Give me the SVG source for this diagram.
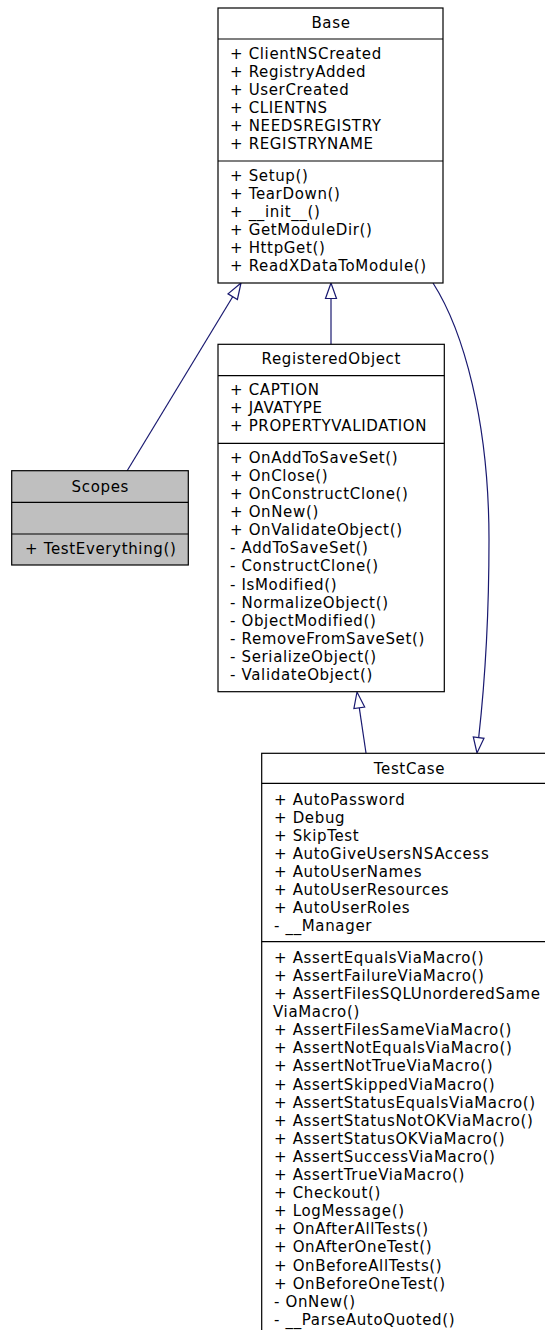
<svg xmlns="http://www.w3.org/2000/svg" width="545" height="1330" viewBox="0 0 545 1330">
<style>
text { font-family: "DejaVu Sans", "Liberation Sans", sans-serif; font-size: 15px; letter-spacing: 0.65px; fill: #000; }
.t { text-anchor: middle; }
.box { fill: #fff; stroke: #000; stroke-width: 1.2; }
.grey { fill: #bfbfbf; stroke: #000; stroke-width: 1.2; }
.sep { stroke: #000; stroke-width: 1.2; }
.edge { fill: none; stroke: #191970; stroke-width: 1.2; }
.head { fill: #fff; stroke: #191970; stroke-width: 1.2; }
</style>
<rect width="545" height="1330" fill="#fff"/>
<g id="connectors">
  <path class="edge" d="M127,471 L232.7,296.7"/>
  <polygon class="head" points="241,283 228,293.8 237.4,299.5"/>
  <path class="edge" d="M331,298.5 L331,344.5"/>
  <polygon class="head" points="331,283 325.5,298.5 336.5,298.5"/>
  <path class="edge" d="M366,753 L359.3,707.8"/>
  <polygon class="head" points="357,692 353.9,708.6 364.7,707"/>
  <path class="edge" d="M433,283 C463,330 489,420 489,540 C489,620 484,690 478.7,737.5"/>
  <polygon class="head" points="477,753 473.3,737 484,738.3"/>
</g>
<g id="Base">
  <rect class="box" x="218" y="8" width="225" height="275"/>
  <line class="sep" x1="218" y1="39" x2="443" y2="39"/>
  <line class="sep" x1="218" y1="161" x2="443" y2="161"/>
  <text class="t" x="331" y="28">Base</text>
  <text x="230" y="58.5">+ ClientNSCreated</text>
  <text x="230" y="76.6">+ RegistryAdded</text>
  <text x="230" y="94.7">+ UserCreated</text>
  <text x="230" y="112.8">+ CLIENTNS</text>
  <text x="230" y="130.9">+ NEEDSREGISTRY</text>
  <text x="230" y="149">+ REGISTRYNAME</text>
  <text x="230" y="180.5">+ Setup()</text>
  <text x="230" y="198.6">+ TearDown()</text>
  <text x="230" y="216.7">+ __init__()</text>
  <text x="230" y="234.8">+ GetModuleDir()</text>
  <text x="230" y="252.9">+ HttpGet()</text>
  <text x="230" y="271">+ ReadXDataToModule()</text>
</g>
<g id="Scopes">
  <rect class="grey" x="11.7" y="470.7" width="176.6" height="94.3"/>
  <line class="sep" x1="11.7" y1="502.3" x2="188.3" y2="502.3"/>
  <line class="sep" x1="11.7" y1="534" x2="188.3" y2="534"/>
  <text class="t" x="100.3" y="491.5">Scopes</text>
  <text x="25" y="553.8">+ TestEverything()</text>
</g>
<g id="RegisteredObject">
  <rect class="box" x="218" y="344.3" width="226.3" height="347.4"/>
  <line class="sep" x1="218" y1="375.7" x2="444.3" y2="375.7"/>
  <line class="sep" x1="218" y1="443.3" x2="444.3" y2="443.3"/>
  <text class="t" x="331.3" y="363.8">RegisteredObject</text>
  <text x="230" y="394.8">+ CAPTION</text>
  <text x="230" y="412.9">+ JAVATYPE</text>
  <text x="230" y="431">+ PROPERTYVALIDATION</text>
  <text x="230" y="462.8">+ OnAddToSaveSet()</text>
  <text x="230" y="480.9">+ OnClose()</text>
  <text x="230" y="499">+ OnConstructClone()</text>
  <text x="230" y="517.1">+ OnNew()</text>
  <text x="230" y="535.2">+ OnValidateObject()</text>
  <text x="230" y="553.3">- AddToSaveSet()</text>
  <text x="230" y="571.4">- ConstructClone()</text>
  <text x="230" y="589.5">- IsModified()</text>
  <text x="230" y="607.6">- NormalizeObject()</text>
  <text x="230" y="625.7">- ObjectModified()</text>
  <text x="230" y="643.8">- RemoveFromSaveSet()</text>
  <text x="230" y="661.9">- SerializeObject()</text>
  <text x="230" y="680">- ValidateObject()</text>
</g>
<g id="TestCase">
  <rect class="box" x="261.7" y="753.3" width="296" height="600"/>
  <line class="sep" x1="261.7" y1="783.3" x2="557.7" y2="783.3"/>
  <line class="sep" x1="261.7" y1="941.7" x2="557.7" y2="941.7"/>
  <text class="t" x="409.5" y="773.5">TestCase</text>
  <text x="274" y="804.5">+ AutoPassword</text>
  <text x="274" y="822.6">+ Debug</text>
  <text x="274" y="840.7">+ SkipTest</text>
  <text x="274" y="858.8">+ AutoGiveUsersNSAccess</text>
  <text x="274" y="876.9">+ AutoUserNames</text>
  <text x="274" y="895">+ AutoUserResources</text>
  <text x="274" y="913.1">+ AutoUserRoles</text>
  <text x="274" y="931.2">- __Manager</text>
  <text x="274" y="962.8">+ AssertEqualsViaMacro()</text>
  <text x="274" y="980.9">+ AssertFailureViaMacro()</text>
  <text x="274" y="999">+ AssertFilesSQLUnorderedSame</text>
  <text x="273" y="1017.1">ViaMacro()</text>
  <text x="274" y="1035.2">+ AssertFilesSameViaMacro()</text>
  <text x="274" y="1053.3">+ AssertNotEqualsViaMacro()</text>
  <text x="274" y="1071.4">+ AssertNotTrueViaMacro()</text>
  <text x="274" y="1089.5">+ AssertSkippedViaMacro()</text>
  <text x="274" y="1107.6">+ AssertStatusEqualsViaMacro()</text>
  <text x="274" y="1125.7">+ AssertStatusNotOKViaMacro()</text>
  <text x="274" y="1143.8">+ AssertStatusOKViaMacro()</text>
  <text x="274" y="1161.9">+ AssertSuccessViaMacro()</text>
  <text x="274" y="1180">+ AssertTrueViaMacro()</text>
  <text x="274" y="1198.1">+ Checkout()</text>
  <text x="274" y="1216.2">+ LogMessage()</text>
  <text x="274" y="1234.3">+ OnAfterAllTests()</text>
  <text x="274" y="1252.4">+ OnAfterOneTest()</text>
  <text x="274" y="1270.5">+ OnBeforeAllTests()</text>
  <text x="274" y="1288.6">+ OnBeforeOneTest()</text>
  <text x="274" y="1306.7">- OnNew()</text>
  <text x="274" y="1324.8">- __ParseAutoQuoted()</text>
</g>
</svg>
